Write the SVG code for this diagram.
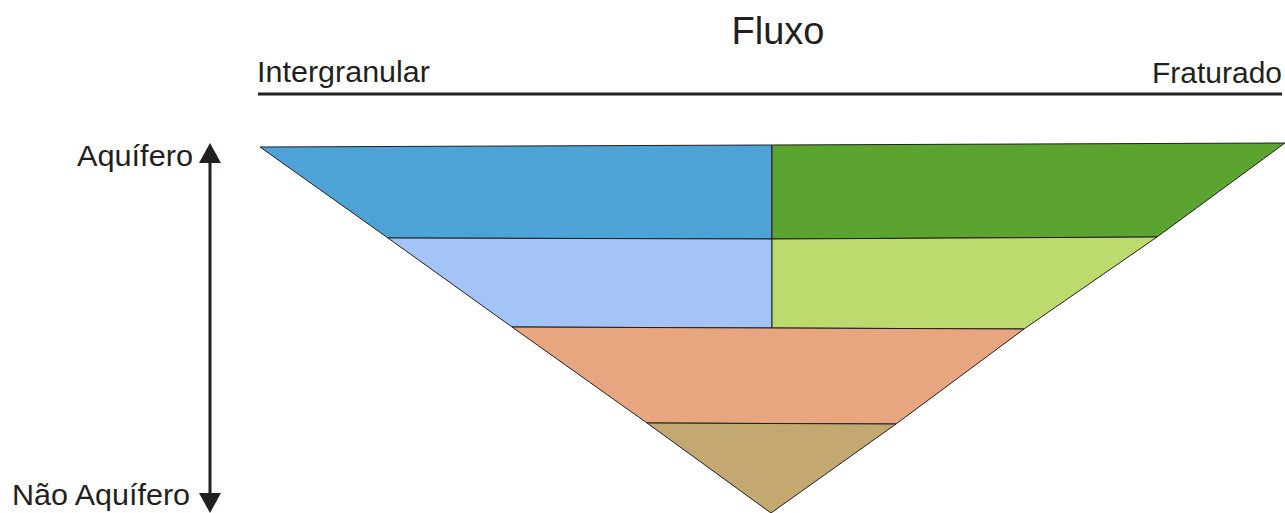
<svg xmlns="http://www.w3.org/2000/svg" width="1285" height="513" viewBox="0 0 1285 513">
<style>
text{font-family:"Liberation Sans",Arial,sans-serif;fill:#231f20}
.lbl{font-size:30px}
.band{stroke:#231f20;stroke-width:1;stroke-linejoin:round}
</style>
<defs>
<marker id="ah" viewBox="0 0 10 10" refX="0.5" refY="5" markerWidth="20" markerHeight="22" orient="auto-start-reverse" markerUnits="userSpaceOnUse" preserveAspectRatio="none">
<path d="M0,0 L10,5 L0,10 z" fill="#231f20"/>
</marker>
</defs>
<rect width="1285" height="513" fill="#fff"/>
<g id="title"><text x="778" y="44" font-size="38" text-anchor="middle">Fluxo</text></g>
<g id="axis-top">
<text class="lbl" x="257" y="82" textLength="173" lengthAdjust="spacingAndGlyphs">Intergranular</text>
<text class="lbl" x="1152" y="83" textLength="130" lengthAdjust="spacingAndGlyphs">Fraturado</text>
<line x1="258" y1="94" x2="1282" y2="94" stroke="#231f20" stroke-width="3"/>
</g>
<g id="pyramid">
<polygon id="blue" class="band" fill="#4DA3D5" points="260,147 772,145 772,239 388,238"/>
<polygon id="green" class="band" fill="#5BA42F" points="772,145 1285,143 1157,237 772,239"/>
<polygon id="lightblue" class="band" fill="#A4C3F7" points="388,238 772,239 772,328 512,327"/>
<polygon id="lightgreen" class="band" fill="#BDDA6F" points="772,239 1157,237 1024,329 772,328"/>
<polygon id="salmon" class="band" fill="#E8A680" points="512,327 772,328 1024,329 896,424 647,423"/>
<polygon id="tan" class="band" fill="#C4A872" points="647,423 896,424 771,513"/>
</g>
<g id="connectors">
<line x1="210" y1="162" x2="210" y2="494" stroke="#231f20" stroke-width="3" marker-start="url(#ah)" marker-end="url(#ah)"/>
</g>
<g id="side-labels">
<text class="lbl" x="77" y="166" textLength="116" lengthAdjust="spacingAndGlyphs">Aquífero</text>
<text class="lbl" x="12" y="505" textLength="178" lengthAdjust="spacingAndGlyphs">Não Aquífero</text>
</g>
</svg>
